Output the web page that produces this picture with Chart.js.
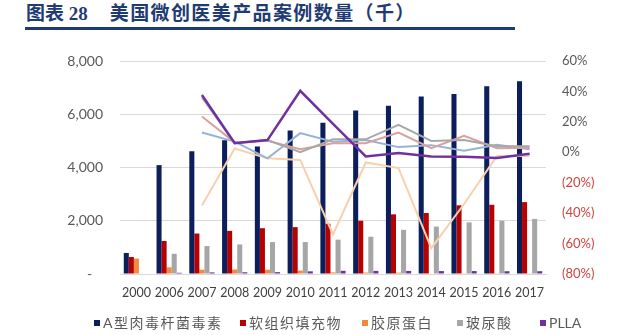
<!DOCTYPE html>
<html>
<head>
<meta charset="utf-8">
<script src="https://cdn.jsdelivr.net/npm/chart.js@4.4.1/dist/chart.umd.min.js"></script>
<style>
  body { margin: 0; background: #fff; }
  #page { position: relative; width: 640px; height: 335px; overflow: hidden; }
  #title { position: absolute; left: 26px; top: -2px; font: bold 19px 'Liberation Serif', 'Noto Sans CJK SC', serif; color: #1f3b73; white-space: nowrap; }
  #title .t2 { margin-left: 22px; letter-spacing: 1.4px; }
  #rule { position: absolute; left: 25px; top: 27px; width: 490px; height: 3px; background: #1f3b73; }
  #c { position: absolute; left: 0; top: 0; }
  .lg { position: absolute; top: 314px; font: 14px Lato, 'Noto Sans CJK SC', sans-serif; color: #595959; letter-spacing: 1.5px; white-space: nowrap; line-height: 18px; }
  .lg.latin { letter-spacing: 0; }
  .lg i { display: inline-block; width: 6px; height: 6px; margin-right: 3px; vertical-align: 2px; }
</style>
</head>
<body>
<div id="page">
  <div id="title">图表 28<span class="t2">美国微创医美产品案例数量（千）</span></div>
  <div id="rule"></div>
  <canvas id="c" width="640" height="335"></canvas>
  <div id="legend"></div>
</div>
<script>
// categories
var years = ['2000', '2006', '2007', '2008', '2009', '2010', '2011', '2012', '2013', '2014', '2015', '2016', '2017'];

// case numbers (thousands), left axis
var botox    = [790, 4090, 4610, 5020, 4790, 5390, 5680, 6140, 6320, 6670, 6760, 7050, 7240];
var filler   = [640, 1240, 1520, 1620, 1720, 1760, 1890, 2000, 2240, 2290, 2580, 2600, 2700];
var collagen = [580, 250, 160, 170, 160, 130, 60, 55, 50, 20, 13, 13, 13];
var hyaluron = [null, 760, 1050, 1110, 1200, 1200, 1290, 1400, 1660, 1780, 1940, 2000, 2070];
var plla     = [null, 45, 60, 65, 70, 100, 120, 115, 115, 110, 110, 105, 105];

// growth rates (%), right axis
var botoxG    = [null, null, 13, 7, -4, 12.6, 7, 8, 3.4, 4.7, 1, 5, 2];
var fillerG   = [null, null, 23.5, 6.5, 7.5, 2, 6, 6, 13, 2.7, 10.8, 2.7, 3];
var collagenG = [null, null, -35, 2.5, -4, -5, -54, -6.7, -10.4, -63, -34, -2.5, -2.5];
var hyaluronG = [null, null, 36, 6, 8, 0, 8.5, 8.5, 18, 7.5, 8, 4, 4];
var pllaG     = [null, null, 37.7, 6, 8, 40.4, 18.7, -2.7, -0.5, -2.7, -3, -3.8, -1];

var leftTicks = { min: 0, max: 8000, step: 2000 };
var rightTicks = { min: -80, max: 60, step: 20 };

var barNames = ['A型肉毒杆菌毒素', '软组织填充物', '胶原蛋白', '玻尿酸', 'PLLA'];
var barColors = ['#0c1e5b', '#b80000', '#f08a3e', '#a6a6a6', '#7030a0'];
var barData = [botox, filler, collagen, hyaluron, plla];

Chart.defaults.font.family = "Lato, 'Noto Sans CJK SC', sans-serif";
Chart.defaults.color = '#595959';

function line(label, data, color, width) {
  return {
    type: 'line', label: label, data: data, yAxisID: 'y1',
    borderColor: color, backgroundColor: color, borderWidth: width,
    pointRadius: 0, tension: 0, spanGaps: true
  };
}

var datasets = [
  line('PLLA增速', pllaG, '#7030a0', 2.5),
  line('玻尿酸增速', hyaluronG, '#a8a8a8', 2),
  line('软组织填充物增速', fillerG, '#d9a0a0', 2),
  line('A型肉毒杆菌毒素增速', botoxG, '#95b3d7', 2),
  line('胶原蛋白增速', collagenG, '#f9d0ac', 2)
];
for (var i = 0; i < barData.length; i++) {
  datasets.push({
    type: 'bar', label: barNames[i], data: barData[i], yAxisID: 'y',
    backgroundColor: barColors[i], categoryPercentage: 0.77, barPercentage: 1.0
  });
}

new Chart(document.getElementById('c'), {
  data: { labels: years, datasets: datasets },
  options: {
    responsive: false,
    animation: false,
    devicePixelRatio: 1,
    layout: { padding: { top: 61, left: 0, right: 0, bottom: 0 } },
    plugins: { legend: { display: false }, tooltip: { enabled: false } },
    scales: {
      x: {
        grid: { display: false, drawTicks: false },
        border: { color: '#d9d9d9' },
        ticks: { autoSkip: false, maxRotation: 0, padding: 11, color: '#404040', font: { size: 12.5 } },
        afterFit: function(s) { s.height = 61; }
      },
      y: {
        position: 'left',
        min: leftTicks.min, max: leftTicks.max,
        grid: { color: '#d9d9d9', drawTicks: false },
        border: { display: false },
        ticks: {
          stepSize: leftTicks.step, padding: 17, font: { size: 14 },
          callback: function(v) { return v === 0 ? '-   ' : v.toLocaleString('en-US'); }
        },
        afterFit: function(s) { s.width = 120; }
      },
      y1: {
        position: 'right',
        min: rightTicks.min, max: rightTicks.max,
        grid: { display: false, drawTicks: false },
        border: { display: false },
        ticks: {
          stepSize: rightTicks.step, padding: 16, font: { size: 13 },
          color: function(ctx) { return ctx.tick.value < 0 ? '#d0443e' : '#595959'; },
          callback: function(v) { return v < 0 ? '(' + (-v) + '%)' : v + '%'; }
        },
        afterFit: function(s) { s.width = 94; }
      }
    }
  }
});

// legend (bar series only, as in the original)
var legendX = [94, 240, 362, 457, 540];
var lg = document.getElementById('legend');
for (var j = 0; j < barNames.length; j++) {
  var d = document.createElement('div');
  d.className = /^[A-Za-z]+$/.test(barNames[j]) ? 'lg latin' : 'lg';
  d.style.left = legendX[j] + 'px';
  d.innerHTML = '<i style="background:' + barColors[j] + '"></i>' + barNames[j];
  lg.appendChild(d);
}
</script>
</body>
</html>
